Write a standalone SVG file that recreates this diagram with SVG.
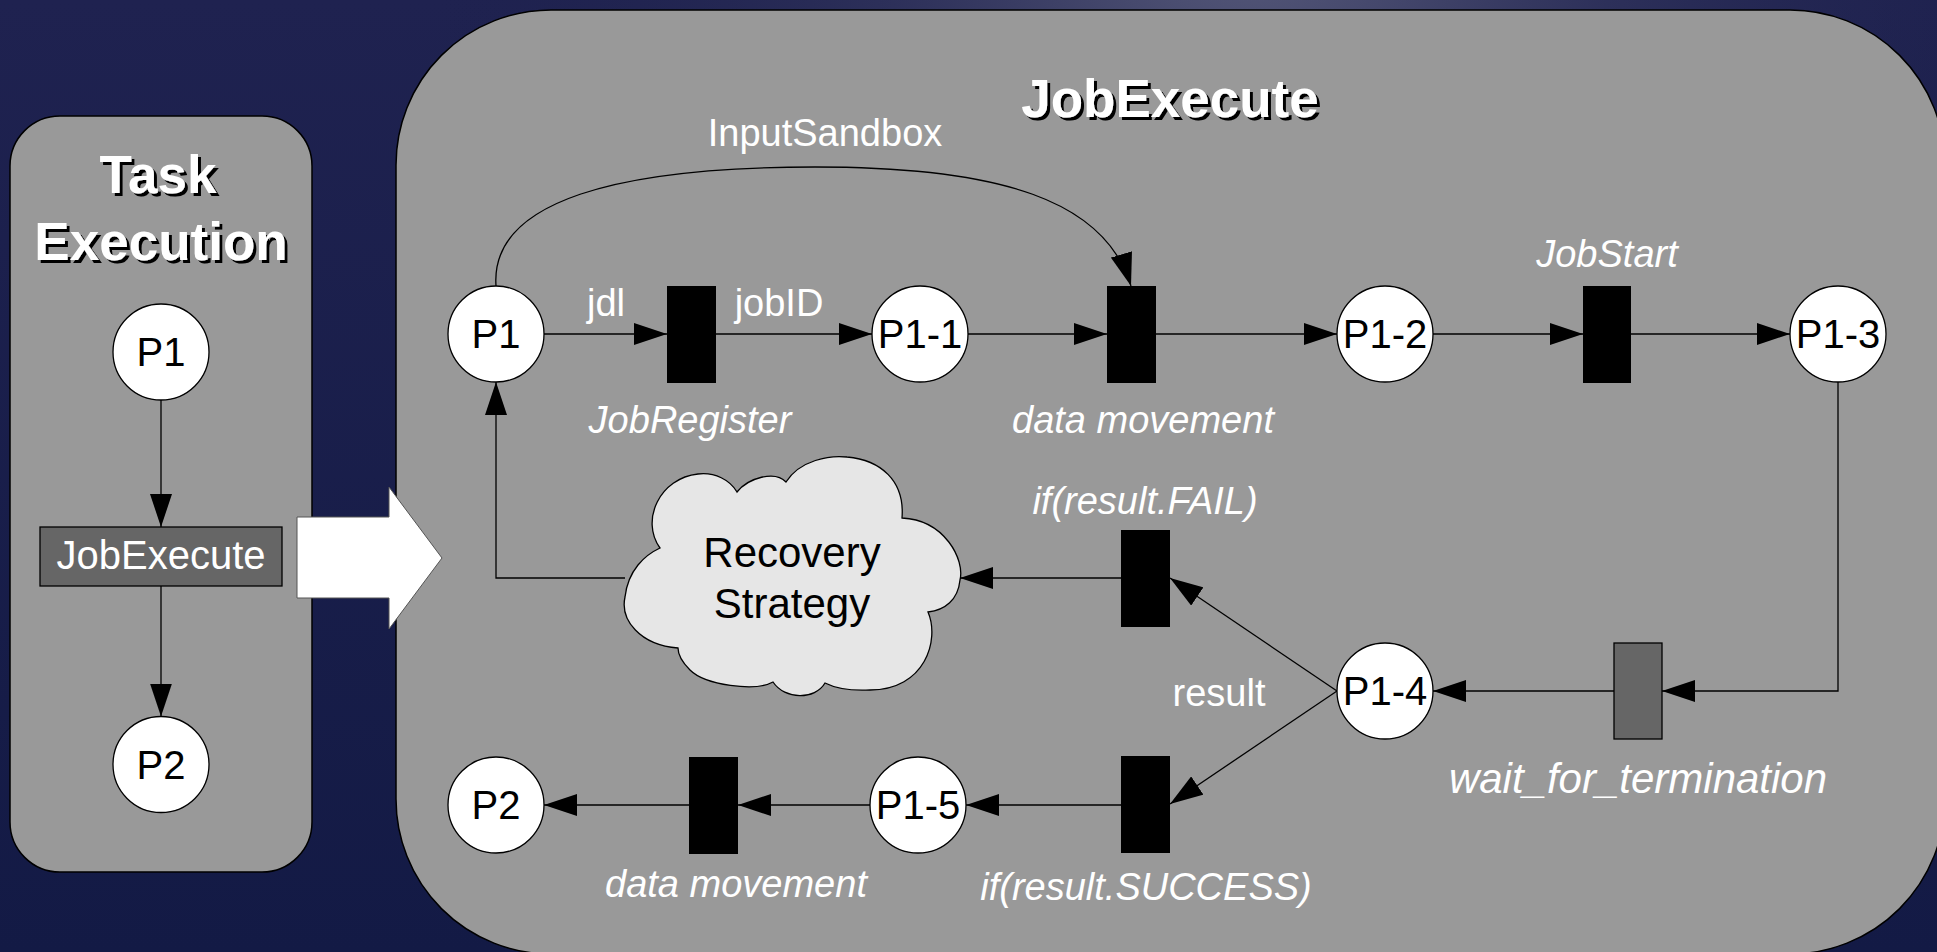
<svg xmlns="http://www.w3.org/2000/svg" width="1937" height="952" viewBox="0 0 1937 952">
  <defs>
    <linearGradient id="bgFade" x1="0" y1="0" x2="0" y2="1">
      <stop offset="0" stop-color="#1f2250"/>
      <stop offset="1" stop-color="#131a45"/>
    </linearGradient>
    <radialGradient id="bgGlow" cx="1250" cy="-90" r="820" gradientUnits="userSpaceOnUse">
      <stop offset="0" stop-color="#5c5f7e" stop-opacity="1"/>
      <stop offset="0.45" stop-color="#33365e" stop-opacity="0.7"/>
      <stop offset="1" stop-color="#1a1e4a" stop-opacity="0"/>
    </radialGradient>
    <marker id="arrowhead" markerUnits="userSpaceOnUse" markerWidth="34" markerHeight="22"
            refX="33" refY="11" orient="auto" viewBox="0 0 34 22">
      <path d="M0,0 L33,11 L0,22 Z" fill="#000"/>
    </marker>
    <filter id="textShadow" x="-10%" y="-20%" width="130%" height="150%">
      <feFlood flood-color="#000"/>
      <feComposite in2="SourceAlpha" operator="in"/>
      <feOffset dx="3" dy="3" result="shade"/>
      <feMerge>
        <feMergeNode in="shade"/>
        <feMergeNode in="SourceGraphic"/>
      </feMerge>
    </filter>
  </defs>
  <style>
    .panel { fill: #999999; stroke: #000; stroke-width: 1.5; }
    .place { fill: #ffffff; stroke: #000; stroke-width: 1.3; }
    .trans { fill: #000; }
    .trans-grey { fill: #666666; stroke: #000; stroke-width: 1.3; }
    .wire { fill: none; stroke: #000; stroke-width: 1.3; }
    .arrow { marker-end: url(#arrowhead); }
    text { font-family: "Liberation Sans", Arial, sans-serif; }
    .node-label { font-size: 40px; fill: #000; text-anchor: middle; }
    .lbl { font-size: 38px; fill: #fff; text-anchor: middle; }
    .lbl-big { font-size: 42px; }
    .it { font-style: italic; }
    .title { font-size: 53px; font-weight: bold; fill: #fff; text-anchor: middle; filter: url(#textShadow); }
    .cloud { fill: #e6e6e6; stroke: #000; stroke-width: 1.3; }
    .cloud-text { font-size: 42px; fill: #000; text-anchor: middle; }
  </style>

  <!-- backdrop -->
  <rect x="0" y="0" width="1937" height="952" fill="url(#bgFade)"/>
  <rect x="0" y="0" width="1937" height="952" fill="url(#bgGlow)"/>

  <!-- containers -->
  <g id="task-execution-panel">
    <rect class="panel" x="10" y="116" width="302" height="756" rx="50" ry="50"/>
    <text class="title" x="158" y="193">Task</text>
    <text class="title" x="161" y="260">Execution</text>
  </g>
  <g id="jobexecute-panel">
    <rect class="panel" x="396" y="10" width="1549" height="944" rx="155" ry="155"/>
    <text class="title" x="1170" y="117">JobExecute</text>
  </g>

  <!-- connectors -->
  <g id="connectors">
    <path class="wire arrow" d="M161,400 V527"/>
    <path class="wire arrow" d="M161,586 V716.5"/>

    <path class="wire arrow" d="M544,334 H667"/>
    <path class="wire arrow" d="M716,334 H872"/>
    <path class="wire arrow" d="M968,334 H1107"/>
    <path class="wire arrow" d="M1156,334 H1337"/>
    <path class="wire arrow" d="M1433,334 H1583"/>
    <path class="wire arrow" d="M1631,334 H1790"/>
    <path class="wire arrow" d="M496,286 C490,200 620,167 815,167 C1000,167 1105,200 1131,286"/>
    <path class="wire arrow" d="M1838,382 V691 H1662"/>
    <path class="wire arrow" d="M1614,691 H1433"/>
    <path class="wire arrow" d="M1337,691 L1170,578"/>
    <path class="wire arrow" d="M1337,691 L1170,804"/>
    <path class="wire arrow" d="M1121,578 H960"/>
    <path class="wire arrow" d="M625,578 H496 V382"/>
    <path class="wire arrow" d="M1121,805 H966"/>
    <path class="wire arrow" d="M870,805 H738"/>
    <path class="wire arrow" d="M689,805 H544"/>

    <text class="lbl" x="825" y="146">InputSandbox</text>
    <text class="lbl" x="606" y="316">jdl</text>
    <text class="lbl" x="779" y="316">jobID</text>
    <text class="lbl" x="1219" y="706">result</text>
  </g>

  <!-- outer net -->
  <g id="outer-P1">
    <circle class="place" cx="161" cy="352" r="48"/>
    <text class="node-label" x="161" y="366">P1</text>
  </g>
  <g id="outer-JobExecute">
    <rect x="40" y="527" width="242" height="59" fill="#666666" stroke="#000" stroke-width="1.3"/>
    <text x="161" y="569" font-size="40" fill="#fff" text-anchor="middle">JobExecute</text>
  </g>
  <g id="outer-P2">
    <circle class="place" cx="161" cy="764.5" r="48"/>
    <text class="node-label" x="161" y="779">P2</text>
  </g>

  <!-- expansion arrow -->
  <g id="expand-arrow">
    <polygon points="297,517 389,517 389,487 442,558 389,629 389,598 297,598" fill="#fff" stroke="#555" stroke-width="1"/>
  </g>

  <!-- places -->
  <g id="P1">
    <circle class="place" cx="496" cy="334" r="48"/>
    <text class="node-label" x="496" y="348">P1</text>
  </g>
  <g id="P1-1">
    <circle class="place" cx="920" cy="334" r="48"/>
    <text class="node-label" x="920" y="348">P1-1</text>
  </g>
  <g id="P1-2">
    <circle class="place" cx="1385" cy="334" r="48"/>
    <text class="node-label" x="1385" y="348">P1-2</text>
  </g>
  <g id="P1-3">
    <circle class="place" cx="1838" cy="334" r="48"/>
    <text class="node-label" x="1838" y="348">P1-3</text>
  </g>
  <g id="P1-4">
    <circle class="place" cx="1385" cy="691" r="48"/>
    <text class="node-label" x="1385" y="705">P1-4</text>
  </g>
  <g id="P1-5">
    <circle class="place" cx="918" cy="805" r="48"/>
    <text class="node-label" x="918" y="819">P1-5</text>
  </g>
  <g id="P2">
    <circle class="place" cx="496" cy="805" r="48"/>
    <text class="node-label" x="496" y="819">P2</text>
  </g>

  <!-- transitions -->
  <g id="JobRegister">
    <rect class="trans" x="667" y="286" width="49" height="97"/>
    <text class="lbl it" x="690" y="433">JobRegister</text>
  </g>
  <g id="data-movement-in">
    <rect class="trans" x="1107" y="286" width="49" height="97"/>
    <text class="lbl it" x="1143" y="433">data movement</text>
  </g>
  <g id="JobStart">
    <rect class="trans" x="1583" y="286" width="48" height="97"/>
    <text class="lbl it" x="1607" y="267">JobStart</text>
  </g>
  <g id="wait_for_termination">
    <rect class="trans-grey" x="1614" y="643" width="48" height="96"/>
    <text class="lbl lbl-big it" x="1638" y="793">wait_for_termination</text>
  </g>
  <g id="if-fail">
    <rect class="trans" x="1121" y="530" width="49" height="97"/>
    <text class="lbl it" x="1145" y="514">if(result.FAIL)</text>
  </g>
  <g id="if-success">
    <rect class="trans" x="1121" y="756" width="49" height="97"/>
    <text class="lbl it" x="1146" y="900">if(result.SUCCESS)</text>
  </g>
  <g id="data-movement-out">
    <rect class="trans" x="689" y="757" width="49" height="97"/>
    <text class="lbl it" x="736" y="897">data movement</text>
  </g>

  <!-- recovery cloud -->
  <g id="recovery-strategy">
    <path class="cloud" d="M660,548
      C640,520 660,478 698,474 C715,472 730,480 737,492
      C748,478 775,470 786,482
      C800,460 830,455 847,457 C880,460 905,480 902,518
      C945,520 965,560 960,580 C958,600 945,610 928,612
      C940,640 925,690 870,690 C850,691 835,688 825,683
      C815,700 785,700 773,682
      C755,692 705,685 690,670 C682,662 678,655 678,648
      C640,645 620,620 625,597 C628,570 645,555 660,548 Z"/>
    <text class="cloud-text" x="792" y="567">Recovery</text>
    <text class="cloud-text" x="792" y="618">Strategy</text>
  </g>
</svg>
